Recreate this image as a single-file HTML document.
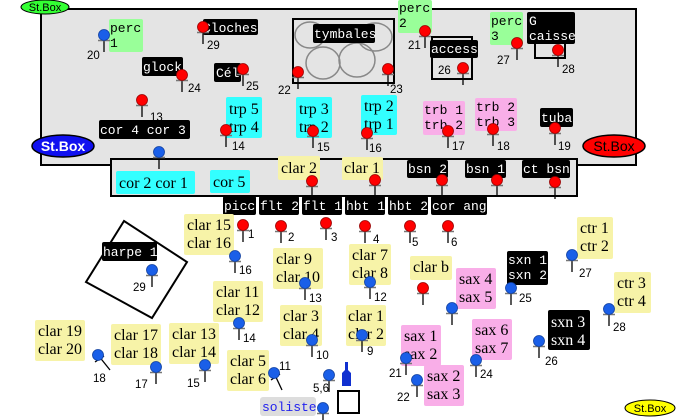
<!DOCTYPE html>
<html><head><meta charset="utf-8"><style>
html,body{margin:0;padding:0;background:#fff}
svg{display:block}
.m{font-family:"Liberation Mono",monospace;font-size:13px;fill:#fff}
.mk{font-family:"Liberation Mono",monospace;font-size:13px;fill:#000}
.s{font-family:"Liberation Serif",serif;font-size:16px;fill:#000}
.n{font-family:"Liberation Sans",sans-serif;font-size:11.5px;fill:#000}
</style></head><body>
<svg width="680" height="420" viewBox="0 0 680 420" xmlns="http://www.w3.org/2000/svg">
<defs>
<g id="rp"><line x1="0" y1="0" x2="0" y2="17" stroke="#000" stroke-width="1.3"/><line x1="-6" y1="5.5" x2="6" y2="5.5" stroke="#777" stroke-width="1.5"/><circle r="5.5" fill="#f00" stroke="#900" stroke-width="0.8"/></g>
<g id="bp"><line x1="0" y1="0" x2="0" y2="17" stroke="#000" stroke-width="1.3"/><line x1="-6" y1="5.5" x2="6" y2="5.5" stroke="#777" stroke-width="1.5"/><circle r="5.5" fill="#1a5fe8" stroke="#1040a0" stroke-width="0.8"/></g>
</defs>
<rect x="41" y="9" width="595" height="156" fill="#e4e4e4" stroke="#000" stroke-width="2"/>
<rect x="111" y="159" width="466" height="37" fill="#e4e4e4" stroke="#000" stroke-width="2"/>
<rect x="293" y="19" width="101" height="64" fill="#e4e4e4" stroke="#000" stroke-width="2"/>
<g fill="none" stroke="#888" stroke-width="1.5">
<ellipse cx="310" cy="35" rx="15" ry="13"/><ellipse cx="375" cy="37" rx="17" ry="14"/>
<ellipse cx="323" cy="63" rx="17" ry="16"/><ellipse cx="357" cy="60" rx="18" ry="17"/></g>
<rect x="313" y="24" width="62" height="19" fill="#000" rx="2"/><text class="m" x="314" y="38">tymbales</text>
<rect x="432" y="37" width="40" height="42" fill="none" stroke="#000" stroke-width="2"/>
<rect x="430" y="40" width="48" height="18" fill="#000" rx="2"/><text class="m" x="431" y="53">access</text>
<rect x="535" y="40" width="30" height="18" fill="none" stroke="#000" stroke-width="2"/>
<rect x="527" y="12" width="48" height="32" fill="#000" rx="2"/><text class="m" x="529" y="25">G</text><text class="m" x="529" y="40">caisse</text>
<ellipse cx="45" cy="7" rx="24" ry="7" fill="#3f3" stroke="#000"/><text x="45" y="11" text-anchor="middle" font-family="Liberation Sans,sans-serif" font-size="11" fill="#000">St.Box</text>
<ellipse cx="63" cy="146" rx="31" ry="11" fill="#1010f0" stroke="#000" stroke-width="1.5"/><text x="63" y="151" text-anchor="middle" font-family="Liberation Sans,sans-serif" font-size="14" font-weight="bold" fill="#fff">St.Box</text>
<ellipse cx="614" cy="146" rx="31" ry="11" fill="#f00" stroke="#000" stroke-width="1.5"/><text x="614" y="151" text-anchor="middle" font-family="Liberation Sans,sans-serif" font-size="14" fill="#000">St.Box</text>
<ellipse cx="650" cy="408" rx="25" ry="8" fill="#ff0" stroke="#000"/><text x="650" y="412" text-anchor="middle" font-family="Liberation Sans,sans-serif" font-size="11" fill="#000">St.Box</text>
<rect x="203" y="19" width="55" height="16" fill="#000" rx="2"/><text class="m" x="203" y="32">Cloches</text>
<rect x="142" y="57" width="41" height="19" fill="#000" rx="2"/><text class="m" x="143" y="71">glock</text>
<rect x="214" y="63" width="27" height="19" fill="#000" rx="2"/><text class="m" x="216" y="77">Cél</text>
<rect x="99" y="120" width="91" height="19" fill="#000" rx="2"/><text class="m" x="100" y="134">cor 4  cor 3</text>
<rect x="540" y="108" width="33" height="19" fill="#000" rx="2"/><text class="m" x="541" y="122">tuba</text>
<rect x="407" y="160" width="41" height="18" fill="#000" rx="2"/><text class="m" x="408" y="173">bsn 2</text>
<rect x="465" y="160" width="41" height="18" fill="#000" rx="2"/><text class="m" x="466" y="173">bsn 1</text>
<rect x="522" y="160" width="48" height="18" fill="#000" rx="2"/><text class="m" x="523" y="173">ct bsn</text>
<rect x="223" y="196" width="33" height="19" fill="#000" rx="2"/><text class="m" x="224" y="210">picc</text>
<rect x="259" y="196" width="40" height="19" fill="#000" rx="2"/><text class="m" x="260" y="210">flt 2</text>
<rect x="302" y="196" width="40" height="19" fill="#000" rx="2"/><text class="m" x="303" y="210">flt 1</text>
<rect x="345" y="196" width="40" height="19" fill="#000" rx="2"/><text class="m" x="346" y="210">hbt 1</text>
<rect x="388" y="196" width="40" height="19" fill="#000" rx="2"/><text class="m" x="389" y="210">hbt 2</text>
<rect x="431" y="196" width="56" height="19" fill="#000" rx="2"/><text class="m" x="432" y="210">cor ang</text>
<polygon points="124,221 187,262 152,318 86,282" fill="none" stroke="#000" stroke-width="2"/>
<rect x="102" y="242" width="55" height="19" fill="#000" rx="2"/><text class="m" x="103" y="256">harpe 1</text>
<rect x="507" y="251" width="41" height="34" fill="#000" rx="2"/><text class="m" x="508" y="264">sxn 1</text><text class="m" x="508" y="279">sxn 2</text>
<rect x="548" y="310" width="42" height="40" fill="#000" rx="2"/><text class="s" x="551" y="327" style="fill:#fff">sxn 3</text><text class="s" x="551" y="345" style="fill:#fff">sxn 4</text>
<rect x="109" y="19" width="34" height="33" fill="#9f9" rx="2"/><text class="mk" x="110" y="32">perc</text><text class="mk" x="110" y="47">1</text>
<rect x="398" y="0" width="34" height="33" fill="#9f9" rx="2"/><text class="mk" x="399" y="12">perc</text><text class="mk" x="399" y="27">2</text>
<rect x="490" y="12" width="33" height="33" fill="#9f9" rx="2"/><text class="mk" x="491" y="25">perc</text><text class="mk" x="491" y="40">3</text>
<g fill="#3ff">
<rect x="226" y="97" width="36" height="41" rx="2"/><rect x="296" y="97" width="36" height="41" rx="2"/>
<rect x="361" y="95" width="36" height="40" rx="2"/><rect x="116" y="171" width="79" height="23" rx="2"/>
<rect x="210" y="170" width="40" height="23" rx="2"/></g>
<text class="s" x="229" y="114">trp 5</text><text class="s" x="229" y="132">trp 4</text>
<text class="s" x="299" y="114">trp 3</text><text class="s" x="299" y="132">trp 2</text>
<text class="s" x="364" y="111">trp 2</text><text class="s" x="364" y="129">trp 1</text>
<text class="s" x="119" y="188">cor 2  cor 1</text><text class="s" x="213" y="187">cor 5</text>
<g fill="#f9aee8">
<rect x="423" y="101" width="42" height="34" rx="2"/><rect x="475" y="98" width="42" height="33" rx="2"/>
<rect x="456" y="268" width="40" height="41" rx="2"/><rect x="401" y="325" width="40" height="41" rx="2"/>
<rect x="424" y="365" width="40" height="41" rx="2"/><rect x="472" y="319" width="40" height="41" rx="2"/></g>
<text class="mk" x="424" y="114">trb 1</text><text class="mk" x="424" y="129">trb 2</text>
<text class="mk" x="476" y="111">trb 2</text><text class="mk" x="476" y="126">trb 3</text>
<text class="s" x="459" y="284">sax 4</text><text class="s" x="459" y="302">sax 5</text>
<text class="s" x="404" y="341">sax 1</text><text class="s" x="404" y="359">sax 2</text>
<text class="s" x="427" y="381">sax 2</text><text class="s" x="427" y="399">sax 3</text>
<text class="s" x="475" y="335">sax 6</text><text class="s" x="475" y="353">sax 7</text>
<g fill="#f7f3a8">
<rect x="278" y="156" width="42" height="24" rx="2"/><rect x="342" y="157" width="41" height="23" rx="2"/>
<rect x="184" y="214" width="50" height="41" rx="2"/><rect x="273" y="248" width="50" height="41" rx="2"/>
<rect x="213" y="281" width="50" height="41" rx="2"/><rect x="280" y="305" width="42" height="41" rx="2"/>
<rect x="35" y="320" width="50" height="41" rx="2"/><rect x="111" y="324" width="50" height="41" rx="2"/>
<rect x="169" y="323" width="50" height="41" rx="2"/><rect x="227" y="350" width="42" height="41" rx="2"/>
<rect x="349" y="244" width="42" height="41" rx="2"/><rect x="346" y="305" width="40" height="41" rx="2"/>
<rect x="410" y="256" width="42" height="24" rx="2"/><rect x="577" y="217" width="36" height="42" rx="2"/>
<rect x="614" y="272" width="37" height="41" rx="2"/></g>
<text class="s" x="281" y="173">clar 2</text><text class="s" x="344" y="173">clar 1</text>
<text class="s" x="187" y="230">clar 15</text><text class="s" x="187" y="248">clar 16</text>
<text class="s" x="276" y="264">clar 9</text><text class="s" x="276" y="282">clar 10</text>
<text class="s" x="216" y="297">clar 11</text><text class="s" x="216" y="315">clar 12</text>
<text class="s" x="283" y="321">clar 3</text><text class="s" x="283" y="339">clar 4</text>
<text class="s" x="38" y="336">clar 19</text><text class="s" x="38" y="354">clar 20</text>
<text class="s" x="114" y="340">clar 17</text><text class="s" x="114" y="358">clar 18</text>
<text class="s" x="172" y="339">clar 13</text><text class="s" x="172" y="357">clar 14</text>
<text class="s" x="230" y="366">clar 5</text><text class="s" x="230" y="384">clar 6</text>
<text class="s" x="352" y="260">clar 7</text><text class="s" x="352" y="278">clar 8</text>
<text class="s" x="348" y="321">clar 1</text><text class="s" x="348" y="339">clar 2</text>
<text class="s" x="413" y="272">clar b</text>
<text class="s" x="580" y="233">ctr 1</text><text class="s" x="580" y="251">ctr 2</text>
<text class="s" x="617" y="288">ctr 3</text><text class="s" x="617" y="306">ctr 4</text>
<rect x="260" y="397" width="56" height="19" fill="#ddd" rx="3"/><text class="mk" x="262" y="411" style="fill:#22e">soliste</text>
<path d="M345,362 h3 v8 l3,3 v13 h-9 v-13 l3,-3z" fill="#1030d0"/>
<rect x="338" y="391" width="21" height="22" fill="#fff" stroke="#000" stroke-width="2"/>
<use href="#rp" x="203" y="27"/><use href="#rp" x="182" y="75"/><use href="#rp" x="243" y="69"/>
<use href="#rp" x="142" y="100"/><use href="#rp" x="226" y="130"/><use href="#rp" x="313" y="131"/>
<use href="#rp" x="298" y="72"/><use href="#rp" x="388" y="69"/><use href="#rp" x="425" y="31"/>
<use href="#rp" x="463" y="68"/><use href="#rp" x="517" y="43"/><use href="#rp" x="558" y="50"/>
<use href="#rp" x="367" y="133"/><use href="#rp" x="448" y="131"/><use href="#rp" x="493" y="129"/>
<use href="#rp" x="555" y="128"/><use href="#rp" x="312" y="181"/><use href="#rp" x="375" y="180"/>
<use href="#rp" x="442" y="180"/><use href="#rp" x="497" y="180"/><use href="#rp" x="555" y="182"/>
<use href="#rp" x="243" y="225"/><use href="#rp" x="281" y="226"/><use href="#rp" x="326" y="223"/>
<use href="#rp" x="365" y="226"/><use href="#rp" x="410" y="226"/><use href="#rp" x="448" y="226"/>
<use href="#rp" x="423" y="288"/>
<use href="#bp" x="104" y="35"/><use href="#bp" x="159" y="152"/><use href="#bp" x="235" y="256"/>
<use href="#bp" x="152" y="270"/><use href="#bp" x="305" y="283"/><use href="#bp" x="239" y="323"/>
<use href="#bp" x="312" y="340"/><use href="#bp" x="370" y="282"/><use href="#bp" x="362" y="335"/>
<use href="#bp" x="156" y="367"/><use href="#bp" x="205" y="365"/><use href="#bp" x="329" y="375"/>
<use href="#bp" x="323" y="408"/><use href="#bp" x="406" y="358"/><use href="#bp" x="417" y="380"/>
<use href="#bp" x="476" y="360"/><use href="#bp" x="511" y="288"/><use href="#bp" x="539" y="341"/>
<use href="#bp" x="572" y="255"/><use href="#bp" x="609" y="309"/><use href="#bp" x="452" y="308"/>
<g stroke="#000" stroke-width="1.3"><line x1="98" y1="355" x2="110" y2="370"/><line x1="274" y1="373" x2="282" y2="390"/><line x1="95" y1="362" x2="104" y2="356"/><line x1="271" y1="380" x2="280" y2="374"/></g>
<circle cx="98" cy="355" r="5.5" fill="#1a5fe8" stroke="#1040a0" stroke-width="0.8"/>
<circle cx="274" cy="373" r="5.5" fill="#1a5fe8" stroke="#1040a0" stroke-width="0.8"/>
<g class="n">
<text x="207" y="49">29</text><text x="188" y="92">24</text><text x="246" y="90">25</text>
<text x="150" y="121">13</text><text x="232" y="150">14</text><text x="317" y="151">15</text>
<text x="278" y="94">22</text><text x="390" y="93">23</text><text x="408" y="49">21</text>
<text x="438" y="74">26</text><text x="497" y="64">27</text><text x="562" y="73">28</text>
<text x="369" y="152">16</text><text x="452" y="150">17</text><text x="497" y="150">18</text>
<text x="558" y="150">19</text>
<text x="248" y="238">1</text><text x="288" y="241">2</text><text x="331" y="241">3</text>
<text x="373" y="243">4</text><text x="412" y="246">5</text><text x="451" y="246">6</text>
<text x="87" y="59">20</text><text x="239" y="274">16</text><text x="133" y="291">29</text>
<text x="309" y="302">13</text><text x="243" y="342">14</text><text x="316" y="359">10</text>
<text x="374" y="301">12</text><text x="367" y="355">9</text><text x="93" y="382">18</text>
<text x="135" y="388">17</text><text x="187" y="387">15</text><text x="279" y="370">11</text>
<text x="313" y="392">5,6</text><text x="389" y="377">21</text><text x="397" y="401">22</text>
<text x="480" y="378">24</text><text x="519" y="302">25</text><text x="545" y="365">26</text>
<text x="579" y="277">27</text><text x="613" y="331">28</text>
</g>
</svg>
</body></html>
